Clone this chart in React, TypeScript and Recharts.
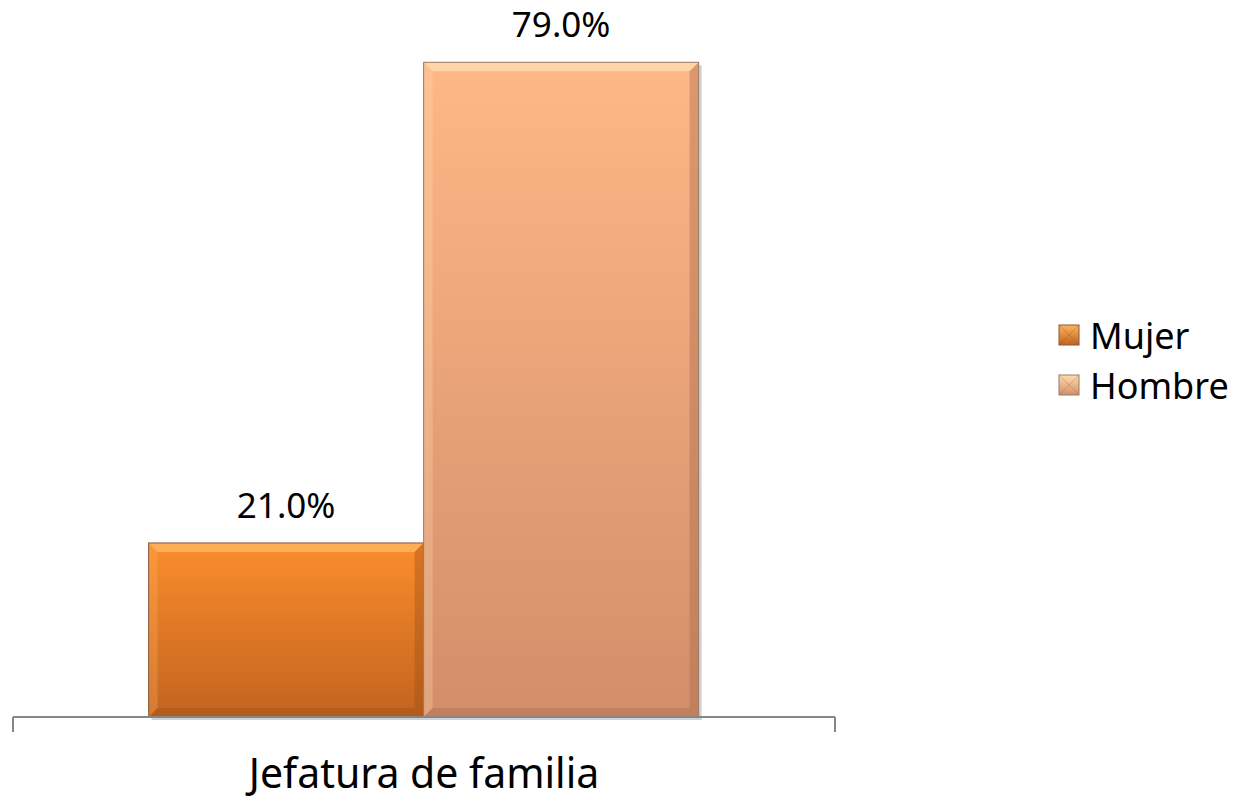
import * as R from 'recharts'
import { Bar, BarChart, LabelList, Legend, XAxis, YAxis } from 'recharts'

const categories = ['Jefatura de familia']
const seriesNames = ['Mujer', 'Hombre']
const mujer = [21.0]
const hombre = [79.0]

const data = categories.map((name, i) => ({ name, Mujer: mujer[i], Hombre: hombre[i] }))

const font = '"Noto Sans", "Open Sans", sans-serif'
const axisColor = '#868686'

const palette: Record<string, { top: string; bottom: string; light: string; dark: string; edge: string }> = {
  Mujer: { top: '#fb8d2c', bottom: '#c2631f', light: '#fdb45f', dark: '#9e4f17', edge: '#8a5a3a' },
  Hombre: { top: '#feb785', bottom: '#d38e6a', light: '#ffdcae', dark: '#a9694a', edge: '#9a7a66' },
}

function BevelBar(props: any) {
  const { x, y, width, height, dataKey } = props
  const c = palette[dataKey]
  if (!c || height <= 0) return null
  const b = Math.min(9, width / 4, height / 4)
  return (
    <g>
      <rect x={x + 3} y={y + 3} width={width} height={height} fill='rgba(0,0,0,0.18)' />
      <rect x={x} y={y} width={width} height={height} fill={`url(#grad-${dataKey})`} />
      <polygon
        points={`${x},${y} ${x + width},${y} ${x + width - b},${y + b} ${x + b},${y + b}`}
        fill={c.light}
        opacity={0.85}
      />
      <polygon
        points={`${x},${y} ${x + b},${y + b} ${x + b},${y + height - b} ${x},${y + height}`}
        fill={c.light}
        opacity={0.3}
      />
      <polygon
        points={`${x + width},${y} ${x + width},${y + height} ${x + width - b},${y + height - b} ${x + width - b},${y + b}`}
        fill={c.dark}
        opacity={0.4}
      />
      <polygon
        points={`${x},${y + height} ${x + width},${y + height} ${x + width - b},${y + height - b} ${x + b},${y + height - b}`}
        fill={c.dark}
        opacity={0.4}
      />
      <rect x={x} y={y} width={width} height={height} fill='none' stroke={c.edge} strokeWidth={1} />
    </g>
  )
}

function ValueLabel(props: any) {
  const { x, y, width, value } = props
  return (
    <text x={x + width / 2} y={y - 25} textAnchor='middle' fontFamily={font} fontSize={35} fill='#000'>
      {Number(value).toFixed(1)}%
    </text>
  )
}

function CategoryTick(props: any) {
  const { x, y, payload } = props
  return (
    <text x={x} y={y} dy={71} textAnchor='middle' fontFamily={font} fontSize={41} fill='#000'>
      {payload.value}
    </text>
  )
}

// the boundary ticks at both ends of the category axis
function EdgeTicks() {
  const usePlot = (R as any).usePlotArea
  const plot = usePlot ? usePlot() : null
  if (!plot) return null
  const yb = plot.y + plot.height
  return (
    <g>
      {[plot.x, plot.x + plot.width].map((x: number, i: number) => (
        <line key={i} x1={x} x2={x} y1={yb} y2={yb + 15} stroke={axisColor} strokeWidth={2} />
      ))}
    </g>
  )
}

function LegendIcon({ name }: { name: string }) {
  const c = palette[name]
  return (
    <svg width={22} height={22} style={{ marginRight: 10 }}>
      <defs>
        <linearGradient id={`lg-${name}`} x1='0' y1='0' x2='0' y2='1'>
          <stop offset='0%' stopColor={c.light} />
          <stop offset='100%' stopColor={c.bottom} />
        </linearGradient>
      </defs>
      <rect x={1} y={1} width={20} height={20} fill={`url(#lg-${name})`} stroke={c.edge} />
      <line x1={1} y1={1} x2={21} y2={21} stroke={c.dark} strokeOpacity={0.35} />
      <line x1={21} y1={1} x2={1} y2={21} stroke={c.dark} strokeOpacity={0.35} />
    </svg>
  )
}

function renderLegend() {
  return (
    <div style={{ fontFamily: font, fontSize: 36, color: '#000' }}>
      {seriesNames.map((n) => (
        <div key={n} style={{ display: 'flex', alignItems: 'center', height: 50 }}>
          <LegendIcon name={n} />
          <span>{n}</span>
        </div>
      ))}
    </div>
  )
}

export default function App() {
  return (
    <div style={{ position: 'absolute', left: 0, top: 0, background: '#fff' }}>
      <BarChart
        width={1258}
        height={802}
        data={data}
        margin={{ top: 54, right: 423, bottom: 0, left: 13 }}
        barCategoryGap='16.5%'
        barGap={0}
      >
        <defs>
          {seriesNames.map((n) => (
            <linearGradient key={n} id={`grad-${n}`} x1='0' y1='0' x2='0' y2='1'>
              <stop offset='0%' stopColor={palette[n].top} />
              <stop offset='100%' stopColor={palette[n].bottom} />
            </linearGradient>
          ))}
        </defs>
        <XAxis
          dataKey='name'
          height={85}
          axisLine={{ stroke: axisColor, strokeWidth: 2 }}
          tickLine={false}
          tickSize={0}
          tickMargin={0}
          tick={<CategoryTick />}
        />
        <YAxis hide domain={[0, 80]} />
        <Legend
          layout='vertical'
          align='center'
          verticalAlign='middle'
          content={renderLegend}
          wrapperStyle={{ position: 'absolute', left: 1058, top: 310, width: 200 }}
        />
        {seriesNames.map((n) => (
          <Bar key={n} dataKey={n} name={n} shape={<BevelBar />} isAnimationActive={false}>
            <LabelList dataKey={n} content={<ValueLabel />} />
          </Bar>
        ))}
        <EdgeTicks />
      </BarChart>
    </div>
  )
}
